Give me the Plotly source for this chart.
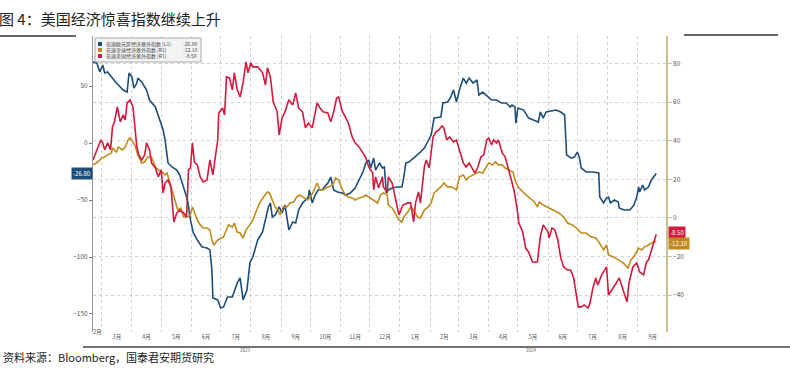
import plotly.graph_objects as go

# ---------------- data ----------------
eu_dates = ["2023-02-20","2023-02-24","2023-02-27","2023-03-02","2023-03-04","2023-03-07","2023-03-11","2023-03-16","2023-03-23","2023-03-27",
"2023-03-29","2023-04-01","2023-04-03","2023-04-06","2023-04-07","2023-04-11","2023-04-16","2023-04-19","2023-04-25","2023-04-30",
"2023-05-03","2023-05-05","2023-05-08","2023-05-12","2023-05-17","2023-05-20","2023-05-24","2023-05-28","2023-05-31","2023-06-03",
"2023-06-07","2023-06-12","2023-06-17","2023-06-20","2023-06-22","2023-06-23","2023-06-28","2023-07-01","2023-07-04","2023-07-08",
"2023-07-13","2023-07-18","2023-07-21","2023-07-24","2023-07-28","2023-07-31","2023-08-03","2023-08-08","2023-08-13","2023-08-16",
"2023-08-19","2023-08-21","2023-08-23","2023-08-26","2023-08-30","2023-09-02","2023-09-05","2023-09-09","2023-09-13","2023-09-16",
"2023-09-19","2023-09-23","2023-09-29","2023-09-30","2023-10-03","2023-10-06","2023-10-09","2023-10-13","2023-10-19","2023-10-22",
"2023-10-25","2023-10-29","2023-11-03","2023-11-06","2023-11-11","2023-11-16","2023-11-20","2023-11-24","2023-11-27","2023-11-30",
"2023-12-02","2023-12-05","2023-12-07","2023-12-09","2023-12-11","2023-12-14","2023-12-16","2023-12-18","2023-12-20","2023-12-24",
"2023-12-29","2024-01-03","2024-01-05","2024-01-07","2024-01-10","2024-01-15","2024-01-19","2024-01-22","2024-01-26","2024-01-30",
"2024-02-02","2024-02-05","2024-02-09","2024-02-12","2024-02-14","2024-02-19","2024-02-22","2024-02-25","2024-02-28","2024-03-02",
"2024-03-06","2024-03-09","2024-03-12","2024-03-16","2024-03-20","2024-03-22","2024-03-26","2024-03-31","2024-04-04","2024-04-09",
"2024-04-14","2024-04-19","2024-04-23","2024-04-25","2024-04-28","2024-04-29","2024-05-01","2024-05-07","2024-05-12","2024-05-17",
"2024-05-22","2024-05-24","2024-05-27","2024-05-30","2024-06-04","2024-06-09","2024-06-14","2024-06-18","2024-06-20","2024-06-25",
"2024-06-28","2024-07-01","2024-07-03","2024-07-05","2024-07-10","2024-07-17","2024-07-23","2024-07-24","2024-07-28","2024-07-31",
"2024-08-02","2024-08-04","2024-08-08","2024-08-12","2024-08-13","2024-08-18","2024-08-24","2024-08-28","2024-08-31","2024-09-02",
"2024-09-03","2024-09-06","2024-09-08","2024-09-12","2024-09-15","2024-09-17","2024-09-20"]
eu_vals = [71.0,70.2,62.3,68.4,61.4,62.3,57.9,52.6,46.5,44.7,
61.4,57.9,48.2,52.6,57.0,53.5,46.5,37.7,31.6,18.4,
11.4,2.6,-17.5,-21.0,-23.7,-28.1,-38.6,-50.0,-67.5,-78.9,
-85.1,-91.2,-92.1,-93.8,-111.4,-136.0,-137.7,-144.7,-143.8,-135.1,
-135.1,-122.8,-118.4,-137.7,-128.9,-105.2,-100.0,-85.1,-78.1,-67.5,
-56.1,-52.6,-64.9,-63.1,-56.1,-61.4,-54.4,-76.3,-69.3,-70.2,
-58.8,-52.6,-47.4,-41.2,-52.6,-45.6,-41.2,-41.2,-35.1,-29.8,
-41.2,-43.0,-43.9,-45.6,-43.9,-39.5,-32.4,-25.4,-17.5,-14.9,
-21.9,-13.2,-23.7,-21.0,-17.5,-21.9,-21.0,-43.9,-41.2,-39.5,
-38.6,-38.6,-29.8,-17.5,-16.7,-13.2,-10.5,-7.9,-4.4,2.6,
7.0,21.9,22.8,22.8,35.1,36.0,40.3,46.5,36.0,46.5,
57.0,52.6,57.0,52.6,55.3,42.1,44.7,40.3,37.7,37.7,
35.1,35.1,31.6,33.3,31.6,17.5,30.7,28.9,21.9,20.2,
18.4,27.2,21.9,27.2,28.1,28.9,27.2,24.6,-10.5,-13.2,
-12.3,-7.9,-12.3,-21.9,-25.4,-25.4,-26.3,-47.4,-52.6,-48.2,
-47.4,-52.6,-50.0,-51.7,-57.0,-58.8,-58.8,-54.4,-47.4,-38.6,
-43.0,-36.8,-41.2,-38.6,-32.4,-29.8,-26.8]

us_dates = ["2023-02-20","2023-02-22","2023-02-25","2023-02-28","2023-03-02","2023-03-04","2023-03-07","2023-03-10","2023-03-12","2023-03-14",
"2023-03-17","2023-03-20","2023-03-23","2023-03-25","2023-03-27","2023-03-30","2023-04-02","2023-04-04","2023-04-06","2023-04-08",
"2023-04-11","2023-04-14","2023-04-16","2023-04-19","2023-04-21","2023-04-25","2023-04-28","2023-05-01","2023-05-03","2023-05-05",
"2023-05-08","2023-05-11","2023-05-13","2023-05-14","2023-05-17","2023-05-20","2023-05-24","2023-05-27","2023-05-29","2023-05-31",
"2023-06-02","2023-06-04","2023-06-07","2023-06-10","2023-06-13","2023-06-17","2023-06-20","2023-06-23","2023-06-28","2023-06-29",
"2023-07-03","2023-07-05","2023-07-07","2023-07-10","2023-07-13","2023-07-15","2023-07-18","2023-07-21","2023-07-24","2023-07-27",
"2023-07-29","2023-08-01","2023-08-03","2023-08-08","2023-08-13","2023-08-16","2023-08-18","2023-08-21","2023-08-24","2023-08-28",
"2023-08-30","2023-09-02","2023-09-05","2023-09-09","2023-09-13","2023-09-16","2023-09-19","2023-09-23","2023-09-26","2023-09-29",
"2023-10-03","2023-10-06","2023-10-08","2023-10-11","2023-10-14","2023-10-19","2023-10-22","2023-10-25","2023-10-28","2023-10-30",
"2023-11-03","2023-11-06","2023-11-09","2023-11-13","2023-11-16","2023-11-20","2023-11-24","2023-11-27","2023-11-30","2023-12-04",
"2023-12-05","2023-12-07","2023-12-10","2023-12-14","2023-12-15","2023-12-19","2023-12-20","2023-12-24","2023-12-27","2023-12-31",
"2024-01-04","2024-01-09","2024-01-12","2024-01-15","2024-01-17","2024-01-20","2024-01-22","2024-01-26","2024-01-28","2024-01-31",
"2024-02-04","2024-02-07","2024-02-10","2024-02-13","2024-02-15","2024-02-18","2024-02-21","2024-02-25","2024-02-28","2024-03-02",
"2024-03-06","2024-03-09","2024-03-12","2024-03-16","2024-03-18","2024-03-21","2024-03-24","2024-03-27","2024-03-30","2024-04-01",
"2024-04-04","2024-04-06","2024-04-09","2024-04-11","2024-04-15","2024-04-18","2024-04-22","2024-04-24","2024-04-27","2024-04-30",
"2024-05-02","2024-05-06","2024-05-09","2024-05-12","2024-05-16","2024-05-21","2024-05-24","2024-05-27","2024-06-01","2024-06-02",
"2024-06-05","2024-06-08","2024-06-11","2024-06-14","2024-06-17","2024-06-21","2024-06-24","2024-06-27","2024-07-02","2024-07-05",
"2024-07-08","2024-07-12","2024-07-14","2024-07-17","2024-07-20","2024-07-22","2024-07-26","2024-07-29","2024-07-31","2024-08-02",
"2024-08-07","2024-08-10","2024-08-13","2024-08-17","2024-08-21","2024-08-23","2024-08-27","2024-08-31","2024-09-03","2024-09-07",
"2024-09-10","2024-09-12","2024-09-15","2024-09-18","2024-09-20"]
us_vals = [30.1,32.7,36.8,40.4,38.9,35.3,38.9,35.3,47.2,49.8,
57.5,49.8,53.4,50.8,59.6,61.2,57.5,47.2,36.8,32.7,
30.1,32.7,38.9,35.3,28.5,25.9,21.3,24.9,13.0,18.1,
19.7,16.1,4.1,-2.1,2.6,4.1,2.6,0.5,24.9,25.9,
38.9,29.0,27.5,21.3,18.7,19.7,30.1,22.3,40.4,54.4,
57.0,53.4,73.1,72.6,66.4,75.2,66.4,62.7,70.0,80.9,
75.2,80.4,78.3,78.3,75.2,68.9,77.8,73.1,60.1,55.0,
43.0,51.8,55.0,61.2,58.6,64.8,57.0,55.0,46.7,49.2,
46.7,55.0,59.6,57.0,55.0,54.4,49.8,55.0,62.2,62.7,
55.0,52.4,49.2,42.0,38.9,36.8,33.7,31.1,26.4,23.3,
14.5,21.3,15.6,21.3,16.1,13.0,21.3,18.1,10.9,1.6,
6.7,7.8,7.8,-2.1,7.8,13.5,7.8,26.4,30.1,25.9,
42.0,44.6,45.6,47.7,46.7,40.4,42.0,39.4,40.4,35.3,
28.5,26.4,28.5,24.9,23.3,26.4,31.6,32.7,40.4,41.5,
37.8,40.4,38.9,40.4,33.7,31.6,23.3,19.7,14.5,5.7,
-2.6,-7.3,-15.6,-17.6,-22.8,-22.8,-9.8,-3.6,-7.3,-10.4,
-5.2,-6.2,-11.4,-20.7,-25.4,-27.0,-27.0,-30.6,-46.1,-46.1,
-45.1,-46.7,-44.1,-36.3,-31.1,-34.7,-29.5,-27.0,-25.4,-39.9,
-36.3,-33.7,-31.1,-37.3,-43.5,-33.7,-25.4,-23.3,-28.0,-29.5,
-22.8,-21.8,-16.6,-12.4,-8.5]

gl_dates = ["2023-02-20","2023-02-25","2023-03-01","2023-03-04","2023-03-07","2023-03-11","2023-03-12","2023-03-16","2023-03-18","2023-03-22",
"2023-03-25","2023-03-28","2023-03-30","2023-04-02","2023-04-04","2023-04-07","2023-04-11","2023-04-14","2023-04-17","2023-04-21",
"2023-04-25","2023-04-28","2023-05-02","2023-05-05","2023-05-07","2023-05-10","2023-05-13","2023-05-16","2023-05-18","2023-05-21",
"2023-05-24","2023-05-28","2023-05-31","2023-06-02","2023-06-04","2023-06-07","2023-06-10","2023-06-13","2023-06-17","2023-06-20",
"2023-06-22","2023-06-24","2023-06-28","2023-07-01","2023-07-04","2023-07-06","2023-07-09","2023-07-13","2023-07-15","2023-07-18",
"2023-07-21","2023-07-24","2023-07-27","2023-07-31","2023-08-03","2023-08-07","2023-08-10","2023-08-14","2023-08-18","2023-08-20",
"2023-08-23","2023-08-26","2023-08-29","2023-08-31","2023-09-03","2023-09-07","2023-09-10","2023-09-14","2023-09-17","2023-09-20",
"2023-09-23","2023-09-28","2023-10-01","2023-10-04","2023-10-08","2023-10-11","2023-10-14","2023-10-19","2023-10-24","2023-10-27",
"2023-10-30","2023-11-03","2023-11-06","2023-11-09","2023-11-13","2023-11-16","2023-11-20","2023-11-24","2023-11-27","2023-11-30",
"2023-12-04","2023-12-09","2023-12-12","2023-12-15","2023-12-19","2023-12-20","2023-12-24","2023-12-27","2023-12-31","2024-01-03",
"2024-01-05","2024-01-09","2024-01-12","2024-01-15","2024-01-19","2024-01-22","2024-01-26","2024-01-30","2024-02-02","2024-02-05",
"2024-02-09","2024-02-12","2024-02-15","2024-02-19","2024-02-22","2024-02-25","2024-02-28","2024-03-02","2024-03-06","2024-03-09",
"2024-03-12","2024-03-16","2024-03-19","2024-03-22","2024-03-26","2024-03-29","2024-04-01","2024-04-05","2024-04-08","2024-04-11",
"2024-04-15","2024-04-18","2024-04-22","2024-04-26","2024-04-29","2024-05-02","2024-05-07","2024-05-12","2024-05-18","2024-05-21",
"2024-05-23","2024-05-27","2024-06-02","2024-06-07","2024-06-12","2024-06-17","2024-06-21","2024-06-26","2024-06-30","2024-07-05",
"2024-07-10","2024-07-15","2024-07-20","2024-07-23","2024-07-28","2024-07-31","2024-08-02","2024-08-07","2024-08-12","2024-08-17",
"2024-08-22","2024-08-25","2024-08-29","2024-09-02","2024-09-05","2024-09-08","2024-09-12","2024-09-17","2024-09-20"]
gl_vals = [27.5,29.0,31.1,31.6,32.7,33.7,36.3,34.2,36.8,35.3,
36.8,40.4,41.5,38.9,37.8,32.7,28.5,29.0,31.6,31.6,
26.4,24.9,23.8,22.3,23.3,18.1,13.0,6.7,4.1,5.2,
0.5,0.5,1.6,5.7,2.6,-1.0,-3.6,-5.2,-5.2,-6.2,
-11.4,-14.0,-11.4,-10.4,-9.8,-7.3,-3.6,-4.7,-2.6,-7.3,
-7.8,-10.4,-6.2,-3.6,-1.0,4.1,7.8,10.9,13.5,13.0,
9.3,5.7,4.1,1.6,5.7,5.7,7.8,8.3,10.9,11.9,
10.9,9.3,10.9,13.5,18.1,14.5,14.5,16.1,17.1,20.7,
19.7,14.5,11.9,10.9,10.4,9.3,10.4,10.9,11.9,10.9,
9.3,7.8,11.9,13.0,11.9,6.7,5.2,2.6,-1.0,-2.1,
0.5,3.1,5.7,4.1,0.5,0.0,4.1,5.7,7.8,13.0,
14.5,16.1,18.1,16.1,16.1,15.6,14.5,21.3,22.3,19.7,
21.3,22.3,23.3,23.8,23.3,25.9,28.5,27.5,29.0,27.5,
27.5,25.9,24.9,23.8,18.1,15.6,13.0,10.9,8.3,5.7,
8.3,6.7,5.2,4.1,2.6,0.5,-2.6,-3.6,-5.2,-7.8,
-7.8,-9.8,-10.4,-12.4,-16.6,-14.0,-19.2,-20.2,-21.8,-23.3,
-25.9,-21.8,-19.2,-15.6,-16.6,-15.0,-14.0,-12.4,-12.1]

series_names = ["花旗欧元区经济意外指数 (L1)", "花旗全球经济意外指数 (R1)", "花旗美国经济意外指数 (R1)"]
last_labels = ["-26.80", "-12.10", "-8.50"]
left_ticks = [-150, -100, -50, 0, 50]
right_ticks = [-40, -20, 0, 20, 40, 60, 80]

# ---------------- styling / layout ----------------
W, H = 790, 370
L, R, T, B = 93, 666, 36, 332
BLUE, GOLD, RED = "#1d4e7a", "#c08a1c", "#d11a3c"
FONT = "Noto Sans CJK SC"

def px(xp):
    return (xp - L) / (R - L)

def py(yp):
    return (B - yp) / (B - T)

fig = go.Figure()
fig.add_trace(go.Scatter(x=eu_dates, y=eu_vals, mode="lines", name=series_names[0],
                         line=dict(color=BLUE, width=1.6), yaxis="y", showlegend=False))
fig.add_trace(go.Scatter(x=gl_dates, y=gl_vals, mode="lines", name=series_names[1],
                         line=dict(color=GOLD, width=1.6), yaxis="y2", showlegend=False))
fig.add_trace(go.Scatter(x=us_dates, y=us_vals, mode="lines", name=series_names[2],
                         line=dict(color=RED, width=1.6), yaxis="y2", showlegend=False))

fig.update_layout(
    width=W, height=H,
    margin=dict(l=L, r=W - R, t=T, b=H - B),
    paper_bgcolor="white", plot_bgcolor="white",
    font=dict(family=FONT, color="#555", size=7),
    xaxis=dict(type="date", range=["2023-02-20", "2024-09-30"],
               dtick="M1", tick0="2023-01-01", ticklabelmode="period",
               tickformat="%-m月", tickfont=dict(size=5.5, color="#555"),
               showgrid=True, gridcolor="#cfcfcf", griddash="dot", gridwidth=1,
               showline=False, zeroline=False, ticks=""),
    yaxis=dict(range=[-165.8, 93.9], tickvals=left_ticks, showgrid=False, zeroline=False,
               showline=True, linecolor="#9a9a9a", linewidth=1, ticks="outside",
               ticklen=3, tickcolor="#777", tickfont=dict(size=6.5, color="#555")),
    yaxis2=dict(range=[-59.1, 94.3], tickvals=right_ticks, overlaying="y", side="right",
                showgrid=True, gridcolor="#d2d2d2", griddash="dot", zeroline=False,
                showline=True, linecolor="#cdbf8f", linewidth=1.5, ticks="outside",
                ticklen=4, tickcolor="#cdbf8f", tickfont=dict(size=6.5, color="#555")),
)

anns = []
# title and source
anns.append(dict(text="图 4：美国经济惊喜指数继续上升", xref="paper", yref="paper",
                 x=px(-3), y=py(19), xanchor="left", yanchor="middle", showarrow=False,
                 font=dict(family=FONT, size=15, color="#222")))
anns.append(dict(text="资料来源：Bloomberg，国泰君安期货研究", xref="paper", yref="paper",
                 x=px(1), y=py(357), xanchor="left", yanchor="middle", showarrow=False,
                 font=dict(family=FONT, size=11, color="#222")))
# year labels
anns.append(dict(text="2023", xref="x", yref="paper", x="2023-07-26", y=py(345),
                 yanchor="top", showarrow=False, font=dict(size=4.5, color="#666")))
anns.append(dict(text="2024", xref="x", yref="paper", x="2024-05-14", y=py(345),
                 yanchor="top", showarrow=False, font=dict(size=4.5, color="#666")))
# first partial month label
anns.append(dict(text="2月", xref="x", yref="paper", x="2023-02-25", y=py(337.5),
                 showarrow=False, font=dict(size=5.5, color="#555")))
# last-value tags
anns.append(dict(text=last_labels[0], xref="paper", yref="y", x=0, y=eu_vals[-1],
                 xanchor="right", yanchor="middle", showarrow=False, bgcolor=BLUE,
                 font=dict(size=6, color="white"), borderpad=1))
anns.append(dict(text=last_labels[2], xref="paper", yref="y2", x=1.003, y=us_vals[-1],
                 xanchor="left", yanchor="middle", yshift=2, showarrow=False, bgcolor=RED,
                 font=dict(size=6, color="white"), borderpad=1))
anns.append(dict(text=last_labels[1], xref="paper", yref="y2", x=1.003, y=gl_vals[-1],
                 xanchor="left", yanchor="middle", yshift=-2, showarrow=False, bgcolor=GOLD,
                 font=dict(size=6, color="white"), borderpad=1))

shapes = []
# legend box
shapes.append(dict(type="rect", xref="paper", yref="paper", x0=px(95), x1=px(201),
                   y0=py(62), y1=py(38), fillcolor="#f3f3f3", line=dict(color="#aaaaaa", width=1)))
colors = [BLUE, GOLD, RED]
for i, (nm, lab, col) in enumerate(zip(series_names, last_labels, colors)):
    yc = 44 + 6 * i
    shapes.append(dict(type="rect", xref="paper", yref="paper", x0=px(98), x1=px(102),
                       y0=py(yc + 2), y1=py(yc - 2), fillcolor=col, line=dict(width=0)))
    anns.append(dict(text=nm, xref="paper", yref="paper", x=px(104), y=py(yc),
                     xanchor="left", yanchor="middle", showarrow=False,
                     font=dict(size=5, color="#444")))
    anns.append(dict(text=lab, xref="paper", yref="paper", x=px(199), y=py(yc),
                     xanchor="right", yanchor="middle", showarrow=False,
                     font=dict(size=5, color="#444")))
# page rules
shapes.append(dict(type="line", xref="paper", yref="paper", x0=px(0), x1=px(76),
                   y0=py(36), y1=py(36), line=dict(color="#333", width=1.5)))
shapes.append(dict(type="line", xref="paper", yref="paper", x0=px(684), x1=px(778),
                   y0=py(35), y1=py(35), line=dict(color="#333", width=1.5)))
shapes.append(dict(type="line", xref="paper", yref="paper", x0=px(83), x1=px(790),
                   y0=py(347), y1=py(347), line=dict(color="#444", width=1.5)))

fig.update_layout(annotations=anns, shapes=shapes)
fig.write_html("out.html", config={"displayModeBar": False},
               post_script="document.body.style.margin='0';")
